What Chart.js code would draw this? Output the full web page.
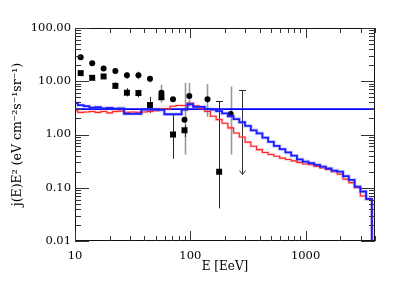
<!DOCTYPE html>
<html><head><meta charset="utf-8">
<script src="https://cdn.jsdelivr.net/npm/chart.js@4/dist/chart.umd.min.js"></script>
<style>html,body{margin:0;padding:0;background:#fff;}canvas{display:block;}</style>
</head><body>
<canvas id="c" width="415" height="285"></canvas>
<script>
// ---- data ----
const binCenters = [10.0,11.2,12.6,14.1,15.8,17.8,20.0,22.4,25.1,28.2,31.6,35.5,39.8,44.7,50.1,56.2,63.1,70.8,79.4,89.1,
  100,112,126,141,158,178,200,224,251,282,316,355,398,447,501,562,631,708,794,891,
  1000,1122,1259,1413,1585,1778,1995,2239,2512,2818,3162,3548,3981];
// last bin is empty (drawn as a drop below the axis)
const blueHist = [3.9,3.55,3.4,3.2,3.25,3.1,3.15,3.05,3.1,2.45,2.45,2.45,2.95,2.95,2.95,2.9,2.4,2.4,2.4,2.95,
  3.7,3.3,3.3,3.0,2.95,2.75,2.5,2.2,1.95,1.7,1.45,1.2,1.05,0.87,0.73,0.61,0.53,0.46,0.4,0.34,
  0.31,0.29,0.27,0.25,0.23,0.21,0.2,0.165,0.14,0.105,0.085,0.062,0.0001];
const redHist = [2.8,2.6,2.65,2.7,2.6,2.7,2.55,2.7,2.75,2.6,2.65,2.6,2.65,2.7,2.8,3.0,3.05,3.4,3.5,3.5,
  3.9,3.45,3.1,2.7,2.2,1.9,1.63,1.33,1.07,0.9,0.72,0.6,0.52,0.46,0.42,0.39,0.36,0.34,0.32,0.3,
  0.28,0.27,0.25,0.235,0.22,0.2,0.18,0.145,0.125,0.1,0.07,0.06,0.0001];
const flatLevel = 3.0;
const flatRange = [10, 4000];

const circleE  = [11.2, 14.1, 17.7, 22.4, 28.2, 35.5, 44.7, 56.2, 70.8, 89.1, 98, 141, 224];
const circleJ  = [28.3, 21.8, 17.3, 15.5, 13.0, 13.0, 11.2, 6.1, 4.6, 1.89, 5.3, 4.6, 2.42];
const circleLo = [null, null, null, null, 11.0, 10.8, 9.5, 3.95, null, 0.42, 3.32, 2.15, 0.42];
const circleHi = [null, null, null, null, 15.0, 15.2, 12.6, 8.6, null, 9.3, 9.3, 8.9, 7.96];

const squareE  = [11.2, 14.1, 17.7, 22.4, 28.2, 35.5, 44.7, 56.2, 70.8, 89.1, 178];
const squareJ  = [14.2, 11.6, 12.3, 8.2, 6.1, 6.0, 3.57, 5.0, 1.0, 1.2, 0.2];
const squareLo = [null, null, null, 7.1, 5.2, 5.0, 2.53, null, 0.35, 0.9, 0.041];
const squareHi = [null, null, null, 9.5, 7.4, 6.9, 5.1, null, 2.35, 1.5, 4.17];

const limitE = [282];
const limitTop = [6.7];
const limitBottom = [0.177];

const xTickValues = [10, 100, 1000];
const xTickLabels = ['10', '100', '1000'];
const yTickValues = [0.01, 0.1, 1, 10, 100];
const yTickLabels = ['0.01', '0.10', '1.00', '10.00', '100.00'];

// ---- helpers ----
const pts = (xs, ys) => xs.map((v, i) => ({x: v, y: ys[i]}));
const FONT = 'DejaVu Serif';

const errPlugin = {
  id: 'errbars',
  beforeDatasetsDraw(chart) {
    const {ctx, scales: {x, y}} = chart;
    ctx.save();
    const bar = (e, lo, hi, col, w, cap) => {
      const px = Math.round(x.getPixelForValue(e)) + 0.5;
      const p1 = y.getPixelForValue(lo), p2 = y.getPixelForValue(hi);
      ctx.strokeStyle = col; ctx.lineWidth = w;
      ctx.beginPath(); ctx.moveTo(px, p1); ctx.lineTo(px, p2); ctx.stroke();
      if (cap) { ctx.beginPath(); ctx.moveTo(px - 3.5, p2); ctx.lineTo(px + 3.5, p2); ctx.stroke(); }
    };
    circleE.forEach((e, i) => { if (circleLo[i] != null) bar(e, circleLo[i], circleHi[i], '#9a9a9a', 1.6, false); });
    squareE.forEach((e, i) => { if (squareLo[i] != null) bar(e, squareLo[i], squareHi[i], '#222', 1, i === squareE.length - 1); });
    limitE.forEach((e, i) => {
      bar(e, limitBottom[i], limitTop[i], '#333', 1, true);
      const px = Math.round(x.getPixelForValue(e)) + 0.5, pb = y.getPixelForValue(limitBottom[i]);
      ctx.beginPath(); ctx.moveTo(px - 3, pb - 4); ctx.lineTo(px, pb); ctx.lineTo(px + 3, pb - 4); ctx.stroke();
    });
    ctx.restore();
  }
};

const framePlugin = {
  id: 'frame',
  afterDraw(chart) {
    const {ctx, chartArea: a, scales: {x, y}} = chart;
    ctx.save();
    ctx.strokeStyle = '#111'; ctx.lineWidth = 1;
    ctx.strokeRect(a.left + 0.5, a.top + 0.5, a.right - a.left - 1, a.bottom - a.top - 1);
    ctx.strokeStyle = '#333';
    const xMin = x.min, xMax = x.max;
    for (let d = 10; d <= 1000; d *= 10) {
      for (let m = 1; m <= 9; m++) {
        const v = d * m; if (v < xMin || v > xMax) continue;
        const px = Math.round(x.getPixelForValue(v)) + 0.5, L = m === 1 ? 10 : 5;
        ctx.beginPath(); ctx.moveTo(px, a.bottom); ctx.lineTo(px, a.bottom - L);
        ctx.moveTo(px, a.top); ctx.lineTo(px, a.top + L); ctx.stroke();
      }
    }
    for (let d = 0.01; d <= 100; d *= 10) {
      for (let m = 1; m <= 9; m++) {
        const v = d * m; if (v < y.min * 0.999 || v > y.max * 1.001) continue;
        const py = Math.round(y.getPixelForValue(v)) + 0.5, L = m === 1 ? 14 : 6;
        ctx.beginPath(); ctx.moveTo(a.left, py); ctx.lineTo(a.left + L, py);
        ctx.moveTo(a.right, py); ctx.lineTo(a.right - L, py); ctx.stroke();
      }
    }
    ctx.restore();
  }
};

const stepDs = (data, color, w) => ({
  data: pts(binCenters, data), showLine: true, stepped: 'middle', borderColor: color,
  borderWidth: w, pointRadius: 0, fill: false
});

new Chart(document.getElementById('c'), {
  type: 'scatter',
  data: {
    datasets: [
      stepDs(blueHist, 'rgba(90,90,255,0.3)', 3.6),
      stepDs(blueHist, '#0000ff', 1.8),
      stepDs(redHist, 'rgba(255,80,80,0.3)', 2.6),
      stepDs(redHist, '#ff1010', 1.1),
      { data: flatRange.map(v => ({x: v, y: flatLevel})), showLine: true, borderColor: '#0000ff', borderWidth: 1.6, pointRadius: 0 },
      { data: pts(circleE, circleJ), pointStyle: 'circle', pointRadius: 3, backgroundColor: '#000', borderColor: '#000', borderWidth: 0 },
      { data: pts(squareE, squareJ), pointStyle: 'rect', pointRadius: 4.2, backgroundColor: '#000', borderColor: '#000', borderWidth: 0 },
      { data: pts(squareE, squareJ), pointStyle: 'crossRot', pointRadius: 3.6, backgroundColor: '#000', borderColor: '#000', borderWidth: 1 }
    ]
  },
  options: {
    responsive: false, animation: false, devicePixelRatio: 1,
    layout: { padding: { left: 0, right: 40, top: 28, bottom: 0 } },
    plugins: { legend: { display: false }, tooltip: { enabled: false } },
    scales: {
      x: {
        type: 'logarithmic', min: 10, max: 4000,
        grid: { display: false, drawTicks: false }, border: { display: false },
        afterBuildTicks: s => { s.ticks = xTickValues.map(v => ({value: v})); },
        afterFit: s => { s.height = 44; },
        ticks: { autoSkip: false, maxRotation: 0, padding: 8, color: '#000', font: { family: FONT, size: 11.5 },
          callback: (v, i) => xTickLabels[i] },
        title: { display: true, text: 'E [EeV]', color: '#000', font: { family: FONT, size: 12 }, padding: { top: 0, bottom: 11 } }
      },
      y: {
        type: 'logarithmic', min: 0.01, max: 100,
        grid: { display: false, drawTicks: false }, border: { display: false },
        afterBuildTicks: s => { s.ticks = yTickValues.map(v => ({value: v})); },
        afterFit: s => { s.width = 75; },
        ticks: { autoSkip: false, padding: 4, color: '#000', font: { family: FONT, size: 11.5 },
          callback: (v, i) => yTickLabels[i] },
        title: { display: true, text: 'j(E)E² (eV cm⁻²s⁻¹sr⁻¹)', color: '#000', font: { family: FONT, size: 12.5 }, padding: { top: 10, bottom: 0 } }
      }
    }
  },
  plugins: [errPlugin, framePlugin]
});
</script>
</body></html>
